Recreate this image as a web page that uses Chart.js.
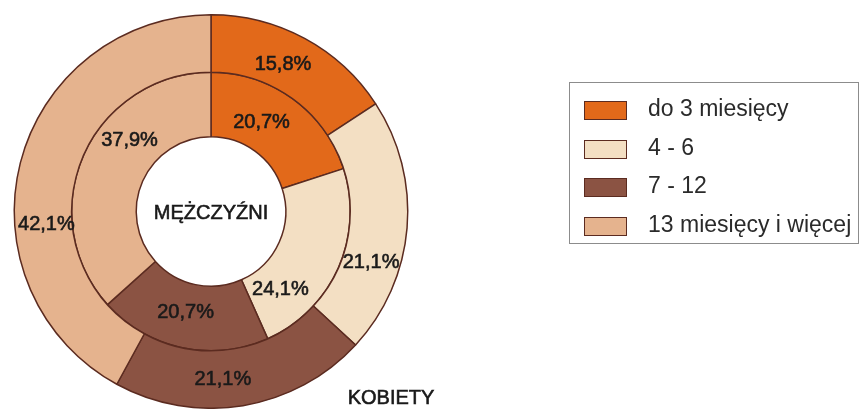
<!DOCTYPE html>
<html>
<head>
<meta charset="utf-8">
<script src="https://cdn.jsdelivr.net/npm/chart.js@4/dist/chart.umd.min.js"></script>
<style>
  body { margin: 0; background: #fff; font-family: "Liberation Sans", Arial, sans-serif; }
  #wrap { position: relative; width: 863px; height: 409px; }
  #legend {
    position: absolute; left: 569px; top: 82px; width: 290px; height: 162px;
    border: 1px solid #8c8c8c; box-sizing: border-box;
  }
  .item { position: absolute; left: 14px; height: 20px; font-size: 23px; color: #2a2a2a; line-height: 20px; white-space: nowrap; }
  .sw { position: absolute; left: 0; top: 0; width: 41px; height: 17px; border: 1.5px solid #5b2b20; }
  .lbl { position: absolute; left: 64px; top: -3px; }
</style>
</head>
<body>
<div id="wrap">
  <canvas id="donut" width="863" height="409"></canvas>
  <div id="legend"></div>
</div>
<script>
const categories = ['do 3 miesięcy', '4 - 6', '7 - 12', '13 miesięcy i więcej'];
const kobiety = [15.8, 21.1, 21.1, 42.1];      // outer ring
const mezczyzni = [20.7, 24.1, 20.7, 37.9];    // inner ring
const colors = ['#e2691a', '#f3dfc3', '#8b5343', '#e5b38e'];
const edge = '#5b2b20';

// label placement along each arc: [fraction of angle, fraction of ring thickness]
const outerLabelPos = [[0.46, 0.42], [0.67, 0.5], [0.57, 0.5], [0.375, 0.45]];
const innerLabelPos = [[0.41, 0.43], [0.79, 0.46], [0.53, 0.45], [0.63, 0.52]];

const fmt = v => v.toFixed(1).replace('.', ',') + '%';

// slightly heavier than regular, like the original print
function heavyText(ctx, txt, x, y) {
    ctx.fillText(txt, x, y);
    ctx.strokeText(txt, x, y);
}

const labelPlugin = {
    id: 'ringLabels',
    afterDatasetsDraw(chart) {
        const ctx = chart.ctx;
        ctx.save();
        ctx.fillStyle = '#1a1a1a';
        ctx.strokeStyle = '#1a1a1a';
        ctx.lineWidth = 0.6;
        ctx.textAlign = 'center';
        ctx.textBaseline = 'middle';
        ctx.font = '20px "Liberation Sans", Arial, sans-serif';
        [outerLabelPos, innerLabelPos].forEach((pos, di) => {
            const meta = chart.getDatasetMeta(di);
            meta.data.forEach((arc, i) => {
                const p = arc.getProps(['x', 'y', 'startAngle', 'endAngle', 'innerRadius', 'outerRadius'], true);
                const a = p.startAngle + pos[i][0] * (p.endAngle - p.startAngle);
                const r = p.innerRadius + pos[i][1] * (p.outerRadius - p.innerRadius);
                const v = chart.data.datasets[di].data[i];
                heavyText(ctx, fmt(v), p.x + Math.cos(a) * r, p.y + Math.sin(a) * r);
            });
        });
        const c = chart.getDatasetMeta(0).data[0];
        heavyText(ctx, 'MĘŻCZYŹNI', c.x, c.y + 2);
        heavyText(ctx, 'KOBIETY', c.x + 180, 398);
        ctx.restore();
    }
};

new Chart(document.getElementById('donut').getContext('2d'), {
    type: 'doughnut',
    data: {
        labels: categories,
        datasets: [{
            label: 'KOBIETY',
            data: kobiety,
            backgroundColor: colors,
            borderColor: edge,
            borderWidth: 1.5,
            weight: 58
        }, {
            label: 'MĘŻCZYŹNI',
            data: mezczyzni,
            backgroundColor: colors,
            borderColor: edge,
            borderWidth: 1.5,
            weight: 65
        }]
    },
    options: {
        responsive: false,
        animation: false,
        cutout: '38%',
        layout: { padding: { left: 13, top: 14, right: 454, bottom: 0 } },
        plugins: {
            legend: { display: false },
            tooltip: { enabled: false }
        }
    },
    plugins: [labelPlugin]
});

const legend = document.getElementById('legend');
categories.forEach((name, i) => {
    const item = document.createElement('div');
    item.className = 'item';
    item.style.top = (18 + i * 38.5) + 'px';
    item.innerHTML = '<span class="sw" style="background:' + colors[i] + '"></span><span class="lbl">' + name + '</span>';
    legend.appendChild(item);
});
</script>
</body>
</html>
